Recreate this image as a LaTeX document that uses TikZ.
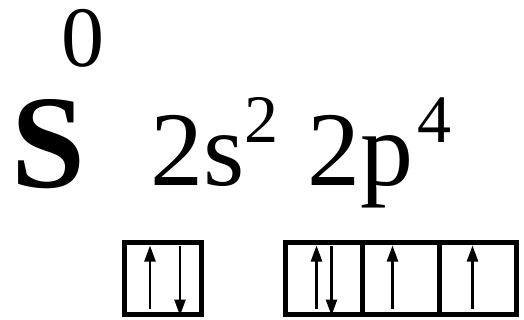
\documentclass[tikz,border=0pt]{standalone}
\usepackage{fontspec}
\setmainfont{Liberation Serif}
\usetikzlibrary{positioning,arrows.meta}

\begin{document}
\begin{tikzpicture}[
  x=1pt, y=-1pt,
  txt/.style={inner sep=0pt, anchor=base west},
  orb/.style={draw, line width=5pt, minimum width=77pt, minimum height=72pt,
              inner sep=0pt, outer sep=0pt},
  spin/.style={line width=2.4pt, -{Triangle[length=16pt,width=11pt]}},
]
  \useasboundingbox (0,0) rectangle (524,320);

  % symbol and charge
  \node[txt, font=\fontsize{133}{140}\selectfont\bfseries] (sym) at (11,188) {S};
  \node[txt, font=\fontsize{86}{90}\selectfont] (chg) at (61,67) {0};

  % configuration
  \node[txt, font=\fontsize{106}{110}\selectfont] (cs) at (150,186) {2s};
  \node[txt, font=\fontsize{68}{72}\selectfont] (es) at (244,143) {2};
  \node[txt, font=\fontsize{106}{110}\selectfont] (cp) at (307,186) {2p};
  \node[txt, font=\fontsize{68}{72}\selectfont] (ep) at (417,143) {4};

  % orbital boxes
  \node[orb] (s1) at (163,278.5) {};
  \node[orb] (p1) at (323.5,278.5) {};
  \node[orb, right=0pt of p1] (p2) {};
  \node[orb, right=0pt of p2] (p3) {};

  % electrons
  \draw[spin] ([xshift=-13pt,yshift=6pt]s1.south) -- ([xshift=-13pt,yshift=-3pt]s1.north);
  \draw[spin] ([xshift=17pt,yshift=-3pt]s1.north) -- ([xshift=17pt,yshift=-1pt]s1.south);
  \draw[spin] ([xshift=-7pt,yshift=6pt]p1.south) -- ([xshift=-7pt,yshift=-3pt]p1.north);
  \draw[spin] ([xshift=8pt,yshift=-3pt]p1.north) -- ([xshift=8pt,yshift=-1pt]p1.south);
  \draw[spin] ([xshift=-8pt,yshift=6pt]p2.south) -- ([xshift=-8pt,yshift=-3pt]p2.north);
  \draw[spin] ([xshift=-5pt,yshift=6pt]p3.south) -- ([xshift=-5pt,yshift=-3pt]p3.north);
\end{tikzpicture}
\end{document}
